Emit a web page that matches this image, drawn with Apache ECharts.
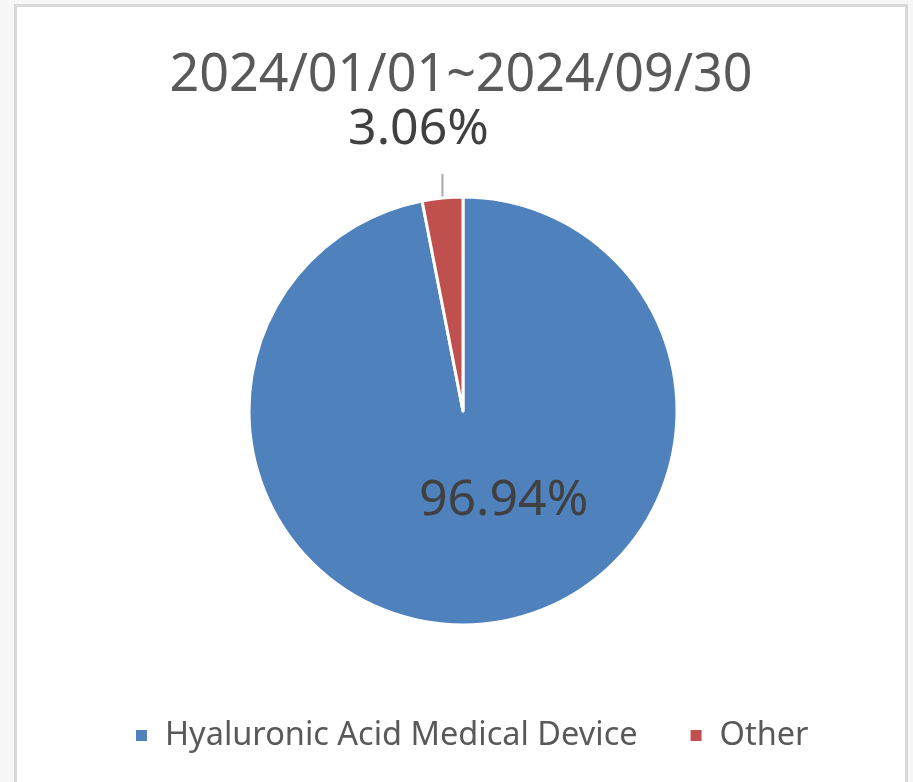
<!DOCTYPE html>
<html>
<head>
<meta charset="utf-8">
<script src="https://cdn.jsdelivr.net/npm/echarts@6/dist/echarts.min.js"></script>
<style>
  html, body { margin: 0; padding: 0; background: #f7f7f7; }
  #frame { position: absolute; left: 14px; top: 4px; width: 888px; height: 800px;
           border: 3px solid #d9d9d9; background: #ffffff; }
  #chart { position: absolute; left: 0; top: 0; width: 913px; height: 782px; }
</style>
</head>
<body>
<div id="frame"></div>
<div id="chart"></div>
<script>
// Share of sales by product line, 2024/01/01 ~ 2024/09/30
const periodTitle = '2024/01/01~2024/09/30';
const categories = ['Hyaluronic Acid Medical Device', 'Other'];
const shares = [96.94, 3.06];
const sliceColors = ['#4F81BD', '#C0504D'];

const chart = echarts.init(document.getElementById('chart'), null, { renderer: 'canvas' });

const fontFamily = '"Noto Sans", "Open Sans", sans-serif';

chart.setOption({
  animation: false,
  title: {
    text: periodTitle,
    left: 456,
    textAlign: 'center',
    top: 45,
    textStyle: { fontFamily, fontSize: 52, fontWeight: 'normal', color: '#595959' }
  },
  legend: {
    bottom: 25,
    left: 131,
    icon: 'rect',
    itemWidth: 11,
    itemHeight: 11,
    itemGap: 53,
    itemStyle: { borderWidth: 0 },
    data: categories,
    textStyle: { fontFamily, fontSize: 32.5, color: '#595959', padding: [0, 0, 0, 13] }
  },
  series: [{
    type: 'pie',
    center: [463, 411],
    radius: [0, 214],
    startAngle: 90,
    clockwise: true,
    avoidLabelOverlap: false,
    itemStyle: { borderColor: '#ffffff', borderWidth: 3 },
    label: {
      show: true,
      fontFamily,
      fontSize: 50,
      color: '#404040',
      formatter: p => p.value.toFixed(2) + '%'
    },
    labelLine: { show: true, length: 22, length2: 0, lineStyle: { color: '#a6a6a6', width: 2 } },
    labelLayout: function (params) {
      if (params.dataIndex === 0) {
        return { dx: 30, dy: -20 };
      }
      // straight vertical leader from the slice edge, label centred above it
      const pts = params.labelLinePoints;
      const start = pts[0];
      const end = [start[0], pts[1][1] - 2];
      return {
        x: end[0] - 24,
        y: end[1] - 44,
        align: 'center',
        verticalAlign: 'middle',
        labelLinePoints: [start, end, end]
      };
    },
    data: categories.map((name, i) => ({
      name,
      value: shares[i],
      itemStyle: { color: sliceColors[i] },
      label: { position: i === 0 ? 'inside' : 'outside' }
    }))
  }]
});
</script>
</body>
</html>
